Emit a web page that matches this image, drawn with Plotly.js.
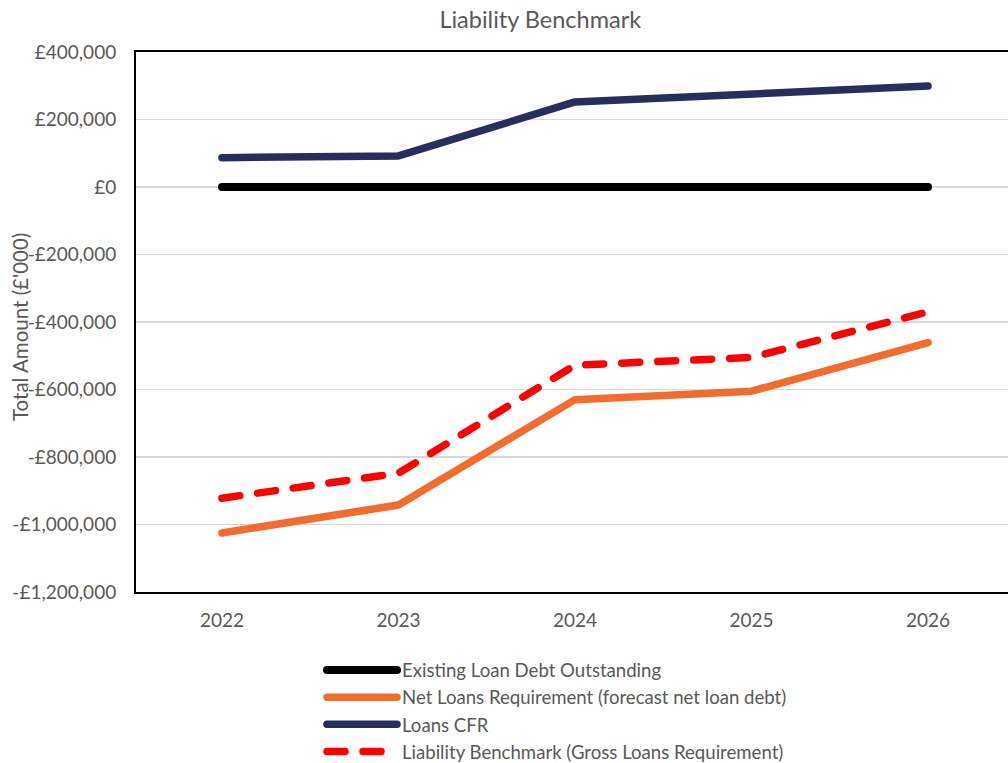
<!DOCTYPE html>
<html>
<head>
<meta charset="utf-8">
<script src="https://cdn.plot.ly/plotly-3.0.1.min.js"></script>
<style>
html, body { margin: 0; padding: 0; overflow: hidden; background: #fff; }
#chart { width: 1008px; height: 800px; }
.js-line, .legendlines path { stroke-linecap: round !important; stroke-linejoin: round !important; }
</style>
</head>
<body>
<div id="chart"></div>
<script>
const years = ['2022', '2023', '2024', '2025', '2026'];
const existingDebt = [0, 0, 0, 0, 0];
const netLoansRequirement = [-1025000, -942000, -630000, -605000, -461000];
const loansCFR = [87000, 92000, 252000, 275000, 299000];
const liabilityBenchmark = [-922000, -848000, -528000, -505000, -370000];

const yTickVals = [400000, 200000, 0, -200000, -400000, -600000, -800000, -1000000, -1200000];
const yTickText = ['£400,000', '£200,000', '£0', '-£200,000', '-£400,000', '-£600,000', '-£800,000', '-£1,000,000', '-£1,200,000'];

const FONT = 'Lato, "Liberation Sans", sans-serif';
const GREY = '#595959';

const traces = [
  { x: years, y: existingDebt, name: 'Existing Loan Debt Outstanding', type: 'scatter', mode: 'lines',
    line: { color: '#000000', width: 8 } },
  { x: years, y: netLoansRequirement, name: 'Net Loans Requirement (forecast net loan debt)', type: 'scatter', mode: 'lines',
    line: { color: '#f26b2f', width: 7.5 } },
  { x: years, y: loansCFR, name: 'Loans CFR', type: 'scatter', mode: 'lines',
    line: { color: '#262f5c', width: 7.5 } },
  { x: years, y: liabilityBenchmark, name: 'Liability Benchmark (Gross Loans Requirement)', type: 'scatter', mode: 'lines',
    line: { color: '#ff0000', width: 7.5, dash: '18px,18px' } }
];

const H = 800;
const layout = {
  width: 1008, height: H,
  margin: { l: 136, r: 0, t: 52, b: H - 592 },
  paper_bgcolor: '#ffffff', plot_bgcolor: '#ffffff',
  font: { family: FONT, color: GREY, size: 18 },
  title: { text: 'Liability Benchmark', font: { family: FONT, size: 23.5, color: GREY },
    x: 0.536, xanchor: 'center', yref: 'container', y: 1 - 20 / H, yanchor: 'middle' },
  xaxis: {
    type: 'category', range: [-0.487, 4.453],
    showline: true, linecolor: '#000000', linewidth: 2, mirror: true,
    showgrid: false, zeroline: false, ticks: '',
    ticklabelstandoff: 10,
    tickfont: { family: FONT, size: 19, color: GREY }
  },
  yaxis: {
    range: [-1200000, 400000],
    tickvals: yTickVals, ticktext: yTickText,
    showline: true, linecolor: '#000000', linewidth: 2,
    showgrid: true, gridcolor: '#d9d9d9', gridwidth: 1.5, zeroline: false, ticks: '',
    ticklabelstandoff: 14,
    tickfont: { family: FONT, size: 19, color: GREY }
  },
  annotations: [{
    text: "Total Amount (£'000)", xref: 'paper', yref: 'paper',
    x: (20 - 136) / 872, y: (592 - 327) / 540, xanchor: 'center', yanchor: 'middle',
    textangle: -90, showarrow: false, font: { family: FONT, size: 20.5, color: GREY }
  }],
  showlegend: true,
  legend: {
    orientation: 'v', x: 0.2133, xanchor: 'left', y: -0.11, yanchor: 'top',
    font: { family: FONT, size: 18.6, color: GREY },
    itemwidth: 70, traceorder: 'normal', bgcolor: 'rgba(0,0,0,0)'
  }
};

Plotly.newPlot('chart', traces, layout, { displayModeBar: false, staticPlot: true });
</script>
</body>
</html>
